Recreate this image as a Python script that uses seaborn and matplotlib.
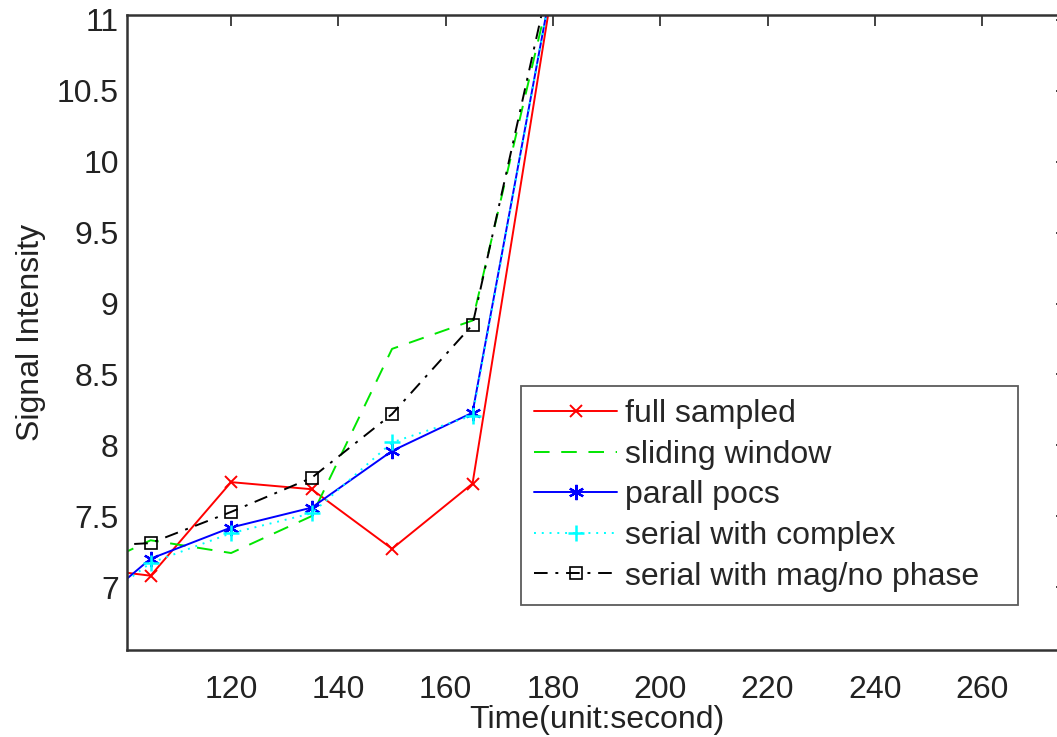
import matplotlib
matplotlib.use("Agg")
import matplotlib.pyplot as plt
import seaborn as sns
import pandas as pd

# ---- data ----
time_s = [90, 105, 120, 135, 150, 165, 180]
full_sampled = [7.15, 7.08, 7.74, 7.69, 7.27, 7.73, 11.25]
sliding_window = [7.06, 7.33, 7.24, 7.50, 8.68, 8.88, 11.30]
parall_pocs = [6.72, 7.20, 7.42, 7.56, 7.96, 8.23, 11.30]
serial_complex = [6.75, 7.17, 7.38, 7.52, 8.02, 8.21, 11.30]
serial_mag = [7.28, 7.31, 7.53, 7.77, 8.22, 8.85, 11.40]

series_names = ["full sampled", "sliding window", "parall pocs",
                "serial with complex", "serial with mag/no phase"]
series_values = [full_sampled, sliding_window, parall_pocs, serial_complex, serial_mag]

x_ticks = [120, 140, 160, 180, 200, 220, 240, 260]
y_ticks = [7, 7.5, 8, 8.5, 9, 9.5, 10, 10.5, 11]
y_tick_labels = ["7", "7.5", "8", "8.5", "9", "9.5", "10", "10.5", "11"]

sns.set_style("white")
plt.rcParams['font.family'] = ['Liberation Sans', 'DejaVu Sans']

FS = 23
fig = plt.figure(figsize=(10.57, 7.37), dpi=100)
ax = fig.add_axes([127 / 1057, (737 - 650) / 737, (1067 - 127) / 1057, (650 - 15) / 737])

styles = [
    dict(color="#ff0000", linestyle="-", marker="x", markersize=9, markeredgewidth=1.4),
    dict(color="#00e600", linestyle=(0, (8, 6)), marker=None),
    dict(color="#0000ff", linestyle="-", marker=(6, 2, 0), markersize=11, markeredgewidth=1.6),
    dict(color="#00ffff", linestyle=(0, (1, 3)), marker="+", markersize=11, markeredgewidth=1.8),
    dict(color="#000000", linestyle=(0, (7, 4, 1.5, 4)), marker="s", markersize=8,
         markerfacecolor="none", markeredgewidth=1.2),
]

for name, vals, st in zip(series_names, series_values, styles):
    df = pd.DataFrame({"t": time_s, "v": vals})
    kws = dict(st)
    if kws.get("marker"):
        kws["markeredgecolor"] = kws["color"]
        kws.setdefault("markerfacecolor", kws["color"])
    sns.lineplot(data=df, x="t", y="v", ax=ax, label=name, linewidth=1.4, **kws)

ax.set_xlim(100.6, 275.8)
ax.set_ylim(6.556, 11.035)
ax.set_xticks(x_ticks)
ax.set_yticks(y_ticks)
ax.set_yticklabels(y_tick_labels)
ax.tick_params(direction="in", length=8, width=1.2, labelsize=FS, colors="#222222",
               top=True, right=True)
ax.tick_params(axis="x", pad=18)
ax.tick_params(axis="y", pad=6)
for sp in ax.spines.values():
    sp.set_linewidth(1.8)
    sp.set_color("#333333")

ax.set_xlabel("Time(unit:second)", fontsize=FS, color="#222222", labelpad=0)
ax.set_ylabel("Signal Intensity", fontsize=FS, color="#222222", labelpad=8)

x0 = (521 - 127) / 940
y0 = (650 - 605) / 635
w = (1018 - 521) / 940
h = (605 - 390) / 635
leg = ax.legend(loc="lower left", bbox_to_anchor=(x0, y0, w, h), mode="expand",
                borderaxespad=0, fontsize=FS, handlelength=2.6, handletextpad=0.25,
                labelspacing=0.33, borderpad=0.42, frameon=True, fancybox=False)
leg.get_frame().set_edgecolor("#333333")
leg.get_frame().set_linewidth(1.3)

fig.savefig("out.png", dpi=100)
